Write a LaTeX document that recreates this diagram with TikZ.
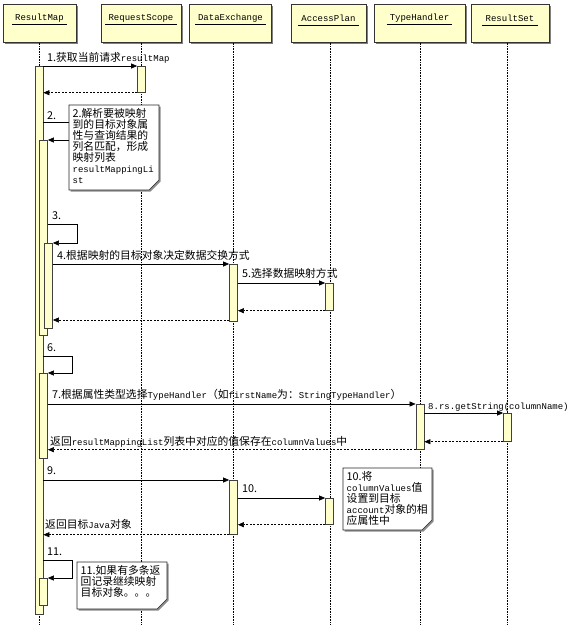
\documentclass[tikz,border=0pt]{standalone}
\usepackage{fontspec}
\setmainfont{Noto Sans CJK SC}
\newfontfamily\latinmono{Liberation Mono}
\usetikzlibrary{arrows.meta,positioning}
\newcommand\entxt[1]{{\latinmono\fontsize{9pt}{11pt}\selectfont #1}}
%% activation bar: name, x, top, bottom
\newcommand\actbar[4]{\node[actbar, minimum height=#4pt-#3pt, anchor=north] (#1) at (#2,#3) {};}
%% note with folded corner: name, x1, y1, x2, y2, text
\newcommand\notebox[6]{%
  \fill[black!45] (#2+1.5,#3+1.5) -- (#4+1.5,#3+1.5) -- (#4+1.5,#5-8.5) -- (#4-8.5,#5+1.5) -- (#2+1.5,#5+1.5) -- cycle;
  \draw[noteshape] (#2,#3) -- (#4,#3) -- (#4,#5-10) -- (#4-10,#5) -- (#2,#5) -- cycle;
  \node[notetxt] (#1) at (#2+3.5,#3+3) {#6};}
\tikzset{every picture/.append style={font=\fontsize{10.8pt}{11.5pt}\selectfont}}
\tikzset{
  hdbox/.style={draw=black!80, fill=barfill, line width=0.8pt, minimum height=38pt, inner sep=0pt},
  hdshadow/.style={fill=black!50, minimum height=38pt, inner sep=0pt},
  actbar/.style={draw=black!75, fill=barfill, line width=0.7pt, minimum width=8pt, inner sep=0pt},
  lifeline/.style={densely dotted, line width=0.6pt},
  msg/.style={-{Triangle[length=6pt,width=5pt]}, line width=0.6pt},
  ret/.style={msg, dash pattern=on 2pt off 1.5pt},
  lbl/.style={anchor=base west, inner sep=0pt},
  notetxt/.style={anchor=north west, align=left, inner sep=0pt, font=\fontsize{10.8pt}{11pt}\selectfont},
  noteshape/.style={draw=black!85, fill=white, line width=0.6pt}
}

\begin{document}
\begin{tikzpicture}[x=1pt, y=-1pt]

\definecolor{barfill}{HTML}{FFFFCC}
\useasboundingbox (0,0) rectangle (572,625);

%% headers and lifelines
\foreach \x/\c/\w/\n/\t in {39/39.5/73/rm/ResultMap, 141/141/80/rq/RequestScope,
    233/230.5/82/de/DataExchange, 330/328.5/75/ap/AccessPlan,
    420/419.5/91/th/TypeHandler, 507/510/78/rs/ResultSet}{
  \node[hdshadow, minimum width=\w pt, anchor=north] at (\c+1.5,5.5) {};
  \node[hdbox, minimum width=\w pt, anchor=north] (h\n) at (\c,4) {};
  \node[inner sep=0pt] (t\n) at (\c,18) {\entxt{\t}};
  \draw[line width=0.6pt] ([xshift=-3pt,yshift=-4pt]t\n.base west) -- ([xshift=3pt,yshift=-4pt]t\n.base east);
  \draw[lifeline] (h\n.south -| \x,0) -- (\x,625);
}

%% activations
\actbar{rm}{39}{66}{614}
\actbar{rq}{141.5}{66}{92}
\actbar{rmb}{43.5}{140}{335}
\actbar{rmc}{48.5}{243}{328}
\actbar{dea}{233.5}{264}{321}
\actbar{apa}{329.5}{283}{310}
\actbar{rmd}{43.5}{373}{458}
\actbar{tha}{420}{404}{449}
\actbar{rsa}{507.5}{413}{441}
\actbar{deb}{233.5}{480}{534}
\actbar{apb}{329.5}{498}{524}
\actbar{rme}{43.5}{578}{605}

%% messages
\draw[msg] (rm.north east) -- (rq.north west);
\draw[ret] (rq.south west) -- (rm.east |- rq.south);
\draw[msg] (rm.east |- 0,122) -| (72,140) -- (rmb.north east);
\draw[msg] (rmb.east |- 0,224) -| (77,243) -- (rmc.north east);
\draw[msg] (rmc.east |- dea.north) -- (dea.north west);
\draw[msg] (dea.east |- apa.north) -- (apa.north west);
\draw[ret] (apa.south west) -- (dea.east |- apa.south);
\draw[ret] (dea.west |- 0,320) -- (rmc.east |- 0,320);
\draw[msg] (rm.east |- 0,356) -| (72,373) -- (rmd.north east);
\draw[msg] (rmd.east |- tha.north) -- (tha.north west);
\draw[msg] (tha.east |- rsa.north) -- (rsa.north west);
\draw[ret] (rsa.south west) -- (tha.east |- rsa.south);
\draw[ret] (tha.south west) -- (rmd.east |- tha.south);
\draw[msg] (rm.east |- deb.north) -- (deb.north west);
\draw[msg] (deb.east |- apb.north) -- (apb.north west);
\draw[ret] (apb.south west) -- (deb.east |- apb.south);
\draw[ret] (deb.south west) -- (rm.east |- deb.south);
\draw[msg] (rm.east |- 0,560) -| (72,578) -- (rme.north east);

%% labels
\node[lbl] (l1) at (47,61) {1.获取当前请求\entxt{resultMap}};
\node[lbl] (l2) at (47,119) {2.};
\node[lbl] (l3) at (52,219) {3.};
\node[lbl] (l4) at (57,259) {4.根据映射的目标对象决定数据交换方式};
\node[lbl] (l5) at (242,277) {5.选择数据映射方式};
\node[lbl] (l6) at (47,351) {6.};
\node[lbl] (l7) at (52,398) {7.根据属性类型选择\entxt{TypeHandler}（如\entxt{firstName}为：\entxt{StringTypeHandler}）};
\node[lbl] (l8) at (428,409) {\entxt{8.rs.getString(columnName)}};
\node[lbl] (lr7) at (50,445) {返回\entxt{resultMappingList}列表中对应的值保存在\entxt{columnValues}中};
\node[lbl] (l9) at (47,474) {9.};
\node[lbl] (l10) at (242,492) {10.};
\node[lbl] (lr9) at (45,528) {返回目标\entxt{Java}对象};
\node[lbl] (l11) at (47,555) {11.};

%% notes
\notebox{n2}{69}{105}{159}{190}{2.解析要被映射\\到的目标对象属\\性与查询结果的\\列名匹配，形成\\映射列表\\\entxt{resultMappingLi}\\\entxt{st}}
\notebox{n10}{343}{468}{432}{530}{10.将\\\entxt{columnValues}值\\设置到目标\\\entxt{account}对象的相\\应属性中}
\notebox{n11}{77}{562}{167}{609}{11.如果有多条返\\回记录继续映射\\目标对象。。。}

\end{tikzpicture}
\end{document}
